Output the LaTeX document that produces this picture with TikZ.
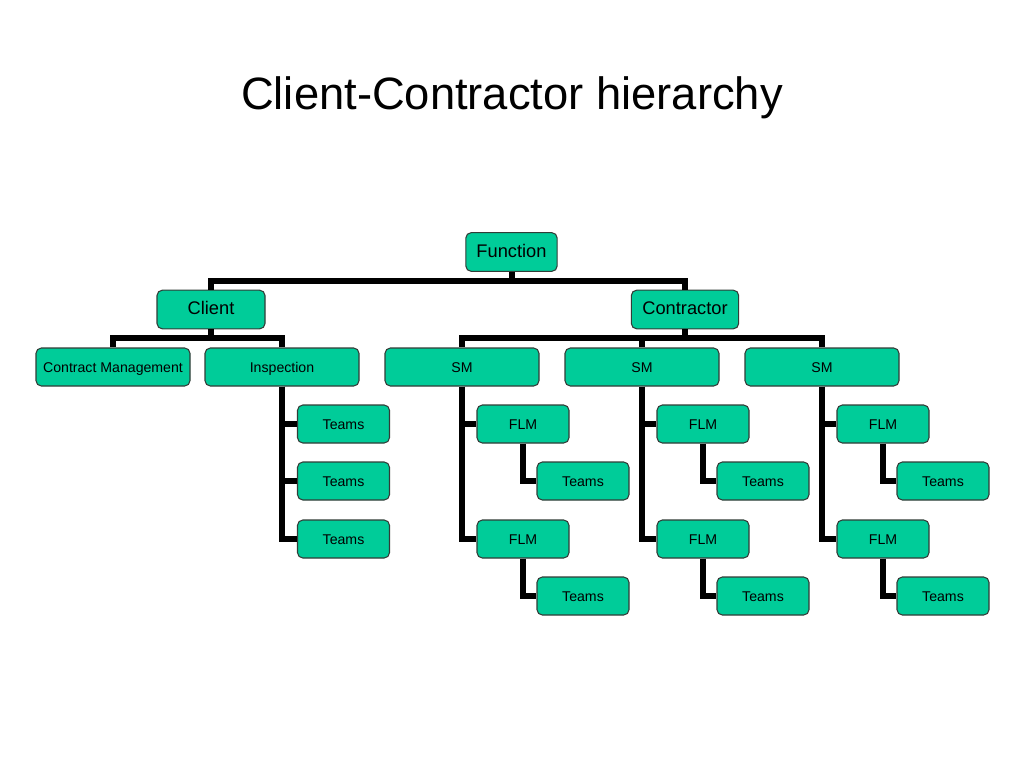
\documentclass[tikz,border=0pt]{standalone}
\usepackage{fontspec}
\setmainfont{Liberation Sans}
\definecolor{boxgreen}{RGB}{0,204,153}
\definecolor{boxedge}{RGB}{50,60,55}
\begin{document}
\begin{tikzpicture}[x=0.75pt,y=-0.75pt,
  box/.style={draw=boxedge,line width=0.8pt,fill=boxgreen,rounded corners=4pt,
    inner sep=0pt,text height=0.8em,text depth=0pt,align=center},
  bigbox/.style={box,minimum height=29pt,font=\fontsize{13.7}{16}\selectfont},
  wide/.style={box,minimum width=115.5pt,minimum height=28.5pt,font=\fontsize{10.6}{12}\selectfont},
  small/.style={box,minimum width=69pt,minimum height=28.5pt,font=\fontsize{10.6}{12}\selectfont},
  link/.style={line width=4.5pt,black,line join=miter,line cap=butt}]
\useasboundingbox[fill=white] (0,0) rectangle (1024,768);
\node[anchor=base,font=\fontsize{34}{40}\selectfont] (title) at (512,109) {Client-Contractor hierarchy};

\node[bigbox,minimum width=68.5pt] (fn) at (511.5,252) {Function};
\node[bigbox,minimum width=81pt] (cl) at (211,309.5) {Client};
\node[bigbox,minimum width=80.5pt] (co) at (685,309.5) {Contractor};

\node[wide] (cm) at (113,367) {Contract Management};
\node[wide] (in) at (282,367) {Inspection};
\node[wide] (sa) at (462,367) {SM};
\node[wide] (sb) at (642,367) {SM};
\node[wide] (sc) at (822,367) {SM};

\node[small] (it1) at (343.5,424) {Teams};
\node[small] (it2) at (343.5,481) {Teams};
\node[small] (it3) at (343.5,539) {Teams};

\node[small] (fa1) at (523,424) {FLM};
\node[small] (ta1) at (583,481) {Teams};
\node[small] (fa2) at (523,539) {FLM};
\node[small] (ta2) at (583,596) {Teams};

\node[small] (fb1) at (703,424) {FLM};
\node[small] (tb1) at (763,481) {Teams};
\node[small] (fb2) at (703,539) {FLM};
\node[small] (tb2) at (763,596) {Teams};

\node[small] (fc1) at (883,424) {FLM};
\node[small] (tc1) at (943,481) {Teams};
\node[small] (fc2) at (883,539) {FLM};
\node[small] (tc2) at (943,596) {Teams};

\draw[link] (fn.south) -- ++(0,9) -| (cl.north);
\draw[link] (fn.south) -- ++(0,9) -| (co.north);
\draw[link] (cl.south) -- ++(0,9) -| (cm.north);
\draw[link] (cl.south) -- ++(0,9) -| (in.north);
\draw[link] (co.south) -- ++(0,9) -| (sa.north);
\draw[link] (co.south) -- ++(0,9) -| (sb.north);
\draw[link] (co.south) -- ++(0,9) -| (sc.north);
\draw[link] (in.south) |- (it1.west);
\draw[link] (in.south) |- (it2.west);
\draw[link] (in.south) |- (it3.west);
\draw[link] (sa.south) |- (fa1.west);
\draw[link] (sa.south) |- (fa2.west);
\draw[link] (sb.south) |- (fb1.west);
\draw[link] (sb.south) |- (fb2.west);
\draw[link] (sc.south) |- (fc1.west);
\draw[link] (sc.south) |- (fc2.west);
\draw[link] (fa1.south) |- (ta1.west);
\draw[link] (fa2.south) |- (ta2.west);
\draw[link] (fb1.south) |- (tb1.west);
\draw[link] (fb2.south) |- (tb2.west);
\draw[link] (fc1.south) |- (tc1.west);
\draw[link] (fc2.south) |- (tc2.west);
\end{tikzpicture}
\end{document}
